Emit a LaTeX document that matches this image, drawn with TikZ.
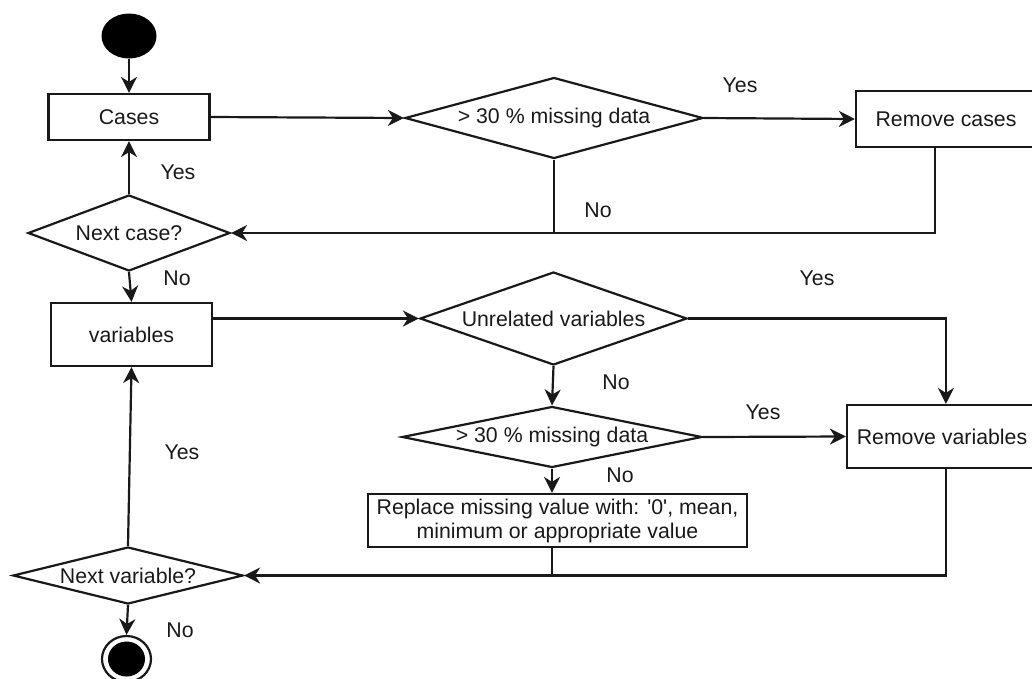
\documentclass[tikz,border=0pt]{standalone}
\usepackage{fontspec}
\setmainfont{Liberation Sans}
\usetikzlibrary{shapes.geometric,arrows.meta,calc}
\begin{document}
\begin{tikzpicture}[x=1pt,y=-1pt,
  every node/.style={font=\fontsize{21.3}{24}\selectfont, text=black!90},
  line/.style={line width=2.2pt, draw=black!90},
  arr/.style={line, -{Stealth[length=16pt,width=16pt,inset=5pt]}},
  boxnode/.style={draw=black!90, line width=2.2pt, rectangle, inner sep=0pt},
  decision/.style={draw=black!90, line width=2.2pt, diamond, inner sep=0pt},
  lbl/.style={inner sep=0pt}
]
\useasboundingbox (0,0) rectangle (1032,678);
\clip (0,0) rectangle (1032,678);
% start
\node[fill=black, ellipse, minimum width=55pt, minimum height=45pt, inner sep=0pt] (start) at (129,36) {};
% boxes
\node[boxnode, minimum width=161pt, minimum height=46pt] (cases) at (129,117) {Cases};
\node[decision, minimum width=298pt, minimum height=81pt, aspect=3.7] (d1) at (554,118) {> 30 \% missing data};
\node[boxnode, minimum width=180pt, minimum height=56pt] (rc) at (946,119) {Remove cases};
\node[decision, minimum width=202pt, minimum height=76pt, aspect=2.66] (nc) at (129,233) {Next case?};
\node[boxnode, minimum width=161pt, minimum height=63pt] (vars) at (131.5,334.5) {variables};
\node[decision, minimum width=267pt, minimum height=93pt, aspect=2.87] (un) at (553.5,318.5) {Unrelated variables};
\node[decision, minimum width=300pt, minimum height=61pt, aspect=4.9] (d2) at (552,437) {> 30 \% missing data};
\node[boxnode, minimum width=190pt, minimum height=63pt] (rv) at (942,436.5) {Remove variables};
\node[boxnode, minimum width=379pt, minimum height=53pt, align=center] (rep) at (557.5,520.5) {Replace missing value with: \textquotesingle 0\textquotesingle, mean,\\minimum or appropriate value};
\node[decision, minimum width=230pt, minimum height=57pt, aspect=4.0] (nv) at (128,575.5) {Next variable?};
% end
\node[draw=black!90, line width=2.2pt, ellipse, minimum width=49pt, minimum height=46pt, inner sep=0pt] (end) at (126.5,659) {};
\node[fill=black, ellipse, minimum width=37pt, minimum height=35pt, inner sep=0pt] (endin) at (end.center) {};
% coordinates
\coordinate (rcb) at ($(rc.south west)+(80,0)$);
\coordinate (rvt) at ($(rv.north west)+(100,0)$);
\coordinate (rvb) at ($(rv.south west)+(100,0)$);
% connectors
\draw[arr] (start) -- (cases);
\draw[arr] (cases.east) -- (d1.west);
\draw[arr] (d1.east) -- (rc.west);
\draw[arr] (rcb) -- (rcb |- nc.east) -- (nc.east);
\draw[line] (d1.south) -- (d1.south |- nc.east);
\draw[arr] (nc.north) -- (cases.south);
\draw[arr] (nc.south) -- (vars.north);
\draw[arr] (vars.east |- un.west) -- (un.west);
\draw[arr] (un.east) -- (un.east -| rvt) -- (rvt);
\draw[arr] (un.south) -- (d2.north);
\draw[arr] (d2.east) -- (rv.west);
\draw[arr] (d2.south) -- (d2.south |- rep.north);
\draw[line] (d2.south |- rep.south) -- (d2.south |- nv.east);
\draw[arr] (rvb) -- (rvb |- nv.east) -- (nv.east);
\draw[arr] (nv.north) -- (vars.south);
\draw[arr] (nv.south) -- (end.north);
% labels
\node[lbl] (l1) at (740,85) {Yes};
\node[lbl] (l2) at (598,210) {No};
\node[lbl] (l3) at (178,172) {Yes};
\node[lbl] (l4) at (177,278) {No};
\node[lbl] (l5) at (817,278) {Yes};
\node[lbl] (l6) at (616,382) {No};
\node[lbl] (l7) at (763,412) {Yes};
\node[lbl] (l8) at (620,475) {No};
\node[lbl] (l9) at (182,452) {Yes};
\node[lbl] (l10) at (180,630) {No};
\end{tikzpicture}
\end{document}
